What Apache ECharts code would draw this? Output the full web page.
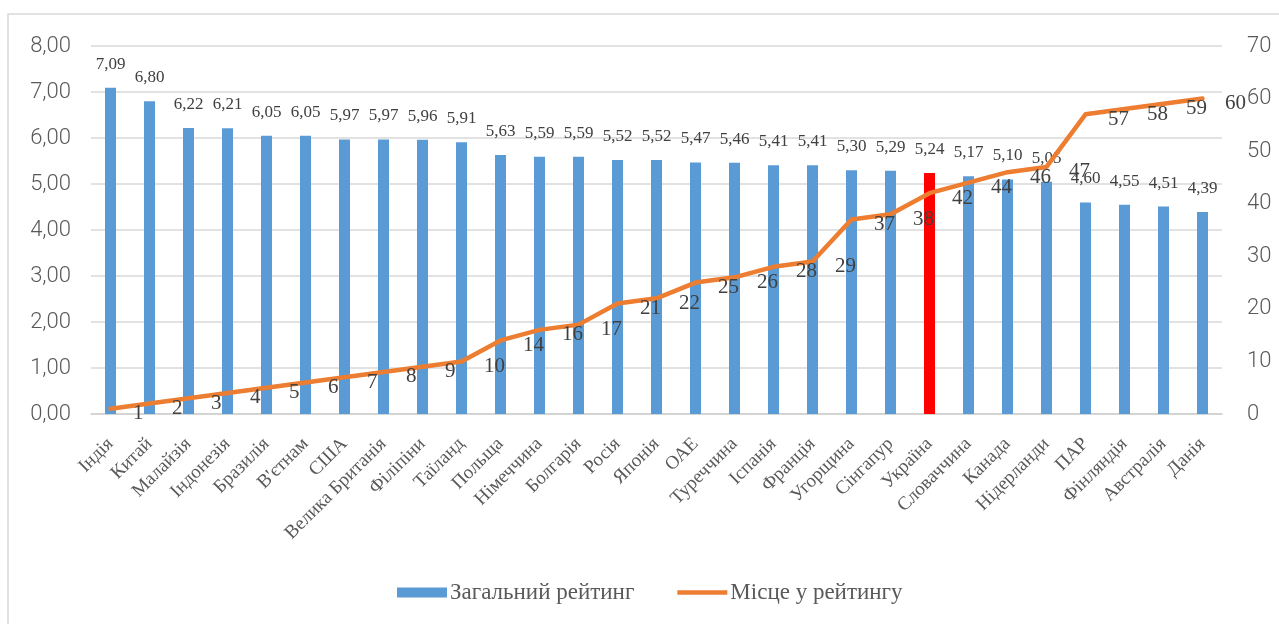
<!DOCTYPE html>
<html>
<head>
<meta charset="utf-8">
<script src="https://cdn.jsdelivr.net/npm/echarts@6/dist/echarts.min.js"></script>
<style>
html,body{margin:0;padding:0;background:#fff;}
#c{width:1279px;height:624px;}
</style>
</head>
<body>
<div id="c"></div>
<script>
var categories = ['Індія','Китай','Малайзія','Індонезія','Бразилія',"В'єтнам",'США','Велика Британія','Філіпіни','Таїланд','Польща','Німеччина','Болгарія','Росія','Японія','ОАЕ','Туреччина','Іспанія','Франція','Угорщина','Сінгапур','Україна','Словаччина','Канада','Нідерланди','ПАР','Фінляндія','Австралія','Данія'];
var ratingValues = [7.09,6.80,6.22,6.21,6.05,6.05,5.97,5.97,5.96,5.91,5.63,5.59,5.59,5.52,5.52,5.47,5.46,5.41,5.41,5.30,5.29,5.24,5.17,5.10,5.05,4.60,4.55,4.51,4.39];
var rankValues = [1,2,3,4,5,6,7,8,9,10,14,16,17,21,22,25,26,28,29,37,38,42,44,46,47,57,58,59,60];
var highlightCategory = 'Україна';
var leftTicks = {min:0,max:8,interval:1};
var rightTicks = {min:0,max:70,interval:10};

var serif = '"Liberation Serif","Times New Roman",serif';
var sans = 'Roboto,"Liberation Sans",sans-serif';

var chart = echarts.init(document.getElementById('c'), null, {renderer:'canvas'});
var barData = ratingValues.map(function(v,i){
  return categories[i] === highlightCategory ? {value:v,itemStyle:{color:'#FF0000'}} : v;
});
chart.setOption({
  animation:false,
  backgroundColor:'#fff',
  graphic:[{type:'rect',shape:{x:8,y:14,width:1300,height:640},style:{fill:'none',stroke:'#d9d9d9',lineWidth:1.5},silent:true,z:-1}],
  grid:{left:91,right:57,top:46,bottom:210},
  legend:{
    left:392, top:576,
    itemWidth:50, itemHeight:10, itemGap:43,
    textStyle:{fontFamily:serif,fontSize:23,color:'#595959',padding:[0,0,0,-2]},
    data:[{name:'Загальний рейтинг',icon:'rect'},
          {name:'Місце у рейтингу',icon:'path://M0,0 L56,0 L56,5 L0,5 Z'}]
  },
  xAxis:{
    type:'category', data:categories,
    axisTick:{show:false},
    axisLine:{lineStyle:{color:'#d0d0d0',width:1.5}},
    axisLabel:{interval:0,rotate:45,margin:27,fontFamily:serif,fontSize:19,color:'#595959'}
  },
  yAxis:[{
    type:'value', min:leftTicks.min, max:leftTicks.max, interval:leftTicks.interval,
    axisLine:{show:false}, axisTick:{show:false},
    splitLine:{lineStyle:{color:'#d9d9d9',width:1.5}},
    axisLabel:{margin:20,fontFamily:sans,fontWeight:300,fontSize:22,color:'#595959',
      formatter:function(v){return v.toFixed(2).replace('.',',');}}
  },{
    type:'value', min:rightTicks.min, max:rightTicks.max, interval:rightTicks.interval,
    axisLine:{show:false}, axisTick:{show:false}, splitLine:{show:false},
    axisLabel:{margin:25,fontFamily:sans,fontWeight:300,fontSize:22,color:'#595959'}
  }],
  series:[{
    name:'Загальний рейтинг', type:'bar', data:barData, barWidth:11,
    itemStyle:{color:'#5B9BD5'},
    label:{show:true,position:'top',distance:15,fontFamily:serif,fontSize:17,color:'#404040',
      formatter:function(p){return p.value.toFixed(2).replace('.',',');}}
  },{
    name:'Місце у рейтингу', type:'line', yAxisIndex:1, data:rankValues,
    symbol:'circle', symbolSize:1, showSymbol:true,
    itemStyle:{color:'#ED7D31'},
    lineStyle:{color:'#ED7D31',width:4.5,cap:'round',join:'round'},
    label:{show:true,position:'right',distance:22,offset:[0,5],fontFamily:serif,fontSize:21,color:'#404040'},
    z:3
  }]
});
</script>
</body>
</html>
